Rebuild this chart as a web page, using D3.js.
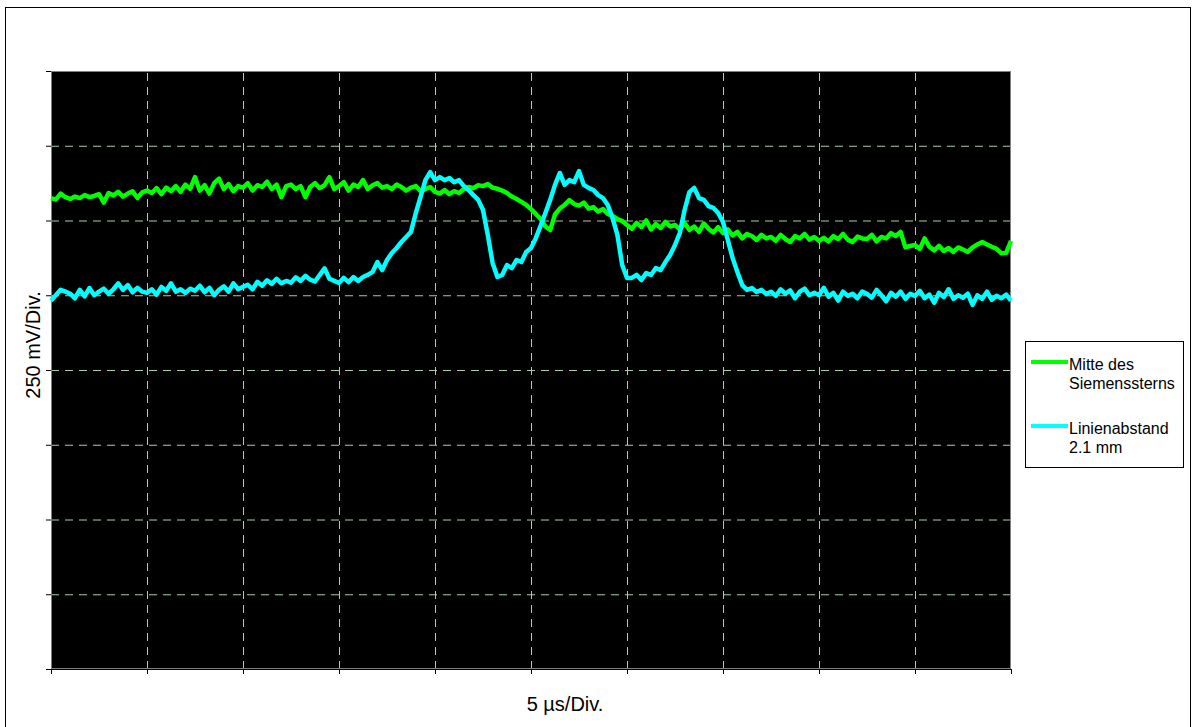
<!DOCTYPE html>
<html>
<head>
<meta charset="utf-8">
<script src="https://cdn.jsdelivr.net/npm/d3@7"></script>
<style>
  html, body { margin: 0; padding: 0; background: #fff; }
  svg { display: block; font-family: "Liberation Sans", Arial, sans-serif; }
</style>
</head>
<body>
<svg id="chart" width="1193" height="727"></svg>
<script>
// Oscilloscope capture: two photodiode traces, 0.25 µs sample spacing
const sampleStep = 0.25;                 // µs between samples
const xTicks = [0, 5, 10, 15, 20, 25, 30, 35, 40, 45, 50];          // µs, 5 µs/Div
const yTicks = [-1000, -750, -500, -250, 0, 250, 500, 750, 1000];   // mV, 250 mV/Div
const xTickLabels = [];
const yTickLabels = [];

const seriesNames = ["Mitte des Siemenssterns", "Linienabstand 2.1 mm"];

// trace 1 (mV)
const mitteValues = [
  575, 570, 590, 578, 572, 580, 575, 585, 578, 582,
  588, 560, 592, 584, 596, 580, 590, 598, 575, 594,
  600, 592, 608, 588, 610, 598, 615, 596, 620, 606,
  645, 600, 618, 590, 625, 640, 605, 622, 598, 615,
  610, 625, 600, 618, 612, 630, 605, 620, 578, 615,
  620, 605, 615, 578, 612, 625, 608, 618, 645, 605,
  615, 628, 600, 620, 612, 635, 605, 618, 625, 610,
  615, 605, 620, 612, 600, 610, 615, 598, 605, 612,
  596, 590, 602, 588, 598, 592, 605, 612, 608, 618,
  615, 622, 610, 606, 600, 592, 580, 572, 562, 552,
  538, 522, 505, 480, 468, 520, 540, 552, 568, 555,
  550, 560, 540, 545, 530, 538, 522, 515, 505, 498,
  485, 472, 492, 478, 500, 470, 488, 475, 495, 480,
  485, 470, 492, 468, 480, 462, 490, 472, 460, 478,
  458, 470, 450, 462, 440, 455, 448, 435, 452, 440,
  445, 432, 452, 438, 428, 448, 440, 455, 436, 445,
  432, 442, 430, 448, 438, 455, 436, 428, 446, 440,
  438, 452, 430, 445, 440, 458, 448, 462, 410, 415,
  418, 405, 440, 412, 400, 415, 398, 408, 395, 410,
  403, 395, 410, 420, 428, 420, 412, 405, 390, 392,
  432
];

// trace 2 (mV)
const linienValues = [
  232, 250, 268, 262, 255, 240, 268, 246, 274, 250,
  262, 272, 255, 270, 290, 268, 284, 260, 275, 262,
  258, 270, 252, 278, 265, 290, 262, 270, 258, 272,
  265, 282, 260, 275, 250, 268, 280, 262, 290, 270,
  278, 285, 270, 295, 282, 300, 288, 305, 290, 298,
  292, 310, 298, 315, 302, 296, 318, 340, 305, 298,
  291, 308, 294, 311, 298, 311, 318, 328, 361, 334,
  368, 391, 408, 428, 445, 462, 525, 579, 635, 662,
  635, 645, 635, 642, 628, 635, 615, 602, 585, 569,
  535, 452, 358, 311, 318, 351, 341, 368, 361, 395,
  408, 441, 482, 525, 569, 619, 659, 619, 635, 628,
  665, 619, 609, 602, 585, 575, 552, 508, 452, 351,
  308, 308, 318, 301, 324, 318, 341, 334, 361, 385,
  418, 458, 535, 595, 609, 575, 569, 548, 542, 525,
  495, 435, 375, 328, 284, 268, 274, 261, 268, 254,
  262, 248, 270, 255, 266, 240, 262, 272, 250, 258,
  250, 275, 245, 258, 232, 262, 248, 255, 240, 262,
  255, 242, 268, 250, 230, 258, 245, 262, 238, 255,
  248, 265, 240, 252, 225, 258, 244, 270, 238, 250,
  242, 255, 218, 250, 238, 262, 235, 248, 240, 252,
  232
];

const seriesColors = ["#00ff00", "#00ffff"];

const svg = d3.select("#chart");
const plot = { left: 51, top: 71, right: 1011, bottom: 669 };

const x = d3.scaleLinear().domain([0, 50]).range([plot.left, plot.right]);
const y = d3.scaleLinear().domain([-1000, 1000]).range([plot.bottom, plot.top]);

// chart frame
svg.append("rect")
  .attr("x", 5.5).attr("y", 7.5)
  .attr("width", 1185).attr("height", 730)
  .attr("fill", "#fff").attr("stroke", "#000").attr("stroke-width", 1);

// plot area
svg.append("rect")
  .attr("x", plot.left).attr("y", plot.top)
  .attr("width", plot.right - plot.left).attr("height", plot.bottom - plot.top)
  .attr("fill", "#000");

// dashed grid
const gridColor = "#aacdaa";
svg.append("g")
  .attr("transform", `translate(0,${plot.bottom})`)
  .call(d3.axisBottom(x).tickValues(xTicks.slice(1, -1)).tickSize(-(plot.bottom - plot.top)).tickFormat(""))
  .call(g => g.select(".domain").remove())
  .call(g => g.selectAll("line").attr("stroke", gridColor).attr("stroke-dasharray", "8,6"));
svg.append("g")
  .attr("transform", `translate(${plot.left},0)`)
  .call(d3.axisLeft(y).tickValues(yTicks.slice(1, -1)).tickSize(-(plot.right - plot.left)).tickFormat(""))
  .call(g => g.select(".domain").remove())
  .call(g => g.selectAll("line").attr("stroke", gridColor).attr("stroke-dasharray", "8,6"));

// plot border
svg.append("rect")
  .attr("x", plot.left + 0.5).attr("y", plot.top + 0.5)
  .attr("width", plot.right - plot.left - 1).attr("height", plot.bottom - plot.top - 1)
  .attr("fill", "none").attr("stroke", "#808080").attr("stroke-width", 1);

// axis ticks
svg.append("g")
  .attr("transform", `translate(${plot.left},0)`)
  .call(d3.axisLeft(y).tickValues(yTicks).tickSize(5).tickFormat((d, i) => yTickLabels[i] || ""))
  .call(g => g.select(".domain").remove())
  .call(g => g.selectAll("line").attr("stroke", "#000"));
svg.append("g")
  .attr("transform", `translate(0,${plot.bottom})`)
  .call(d3.axisBottom(x).tickValues(xTicks).tickSize(5).tickFormat((d, i) => xTickLabels[i] || ""))
  .call(g => g.select(".domain").attr("stroke", "#000"))
  .call(g => g.selectAll("line").attr("stroke", "#000"));

// traces
const line = d3.line()
  .x((d, i) => x(i * sampleStep))
  .y(d => y(d));

const traces = [mitteValues, linienValues];
traces.forEach((vals, k) => {
  svg.append("path")
    .datum(vals)
    .attr("d", line)
    .attr("fill", "none")
    .attr("stroke", seriesColors[k])
    .attr("stroke-width", 4.5)
    .attr("stroke-linejoin", "round");
});

// axis titles
svg.append("text")
  .attr("transform", "translate(40,345) rotate(-90)")
  .attr("text-anchor", "middle")
  .attr("font-size", 20)
  .attr("fill", "#000")
  .text("250 mV/Div.");
svg.append("text")
  .attr("x", 565).attr("y", 711)
  .attr("text-anchor", "middle")
  .attr("font-size", 20)
  .attr("fill", "#000")
  .text("5 µs/Div.");

// legend
const legend = svg.append("g");
legend.append("rect")
  .attr("x", 1025.5).attr("y", 341.5)
  .attr("width", 158).attr("height", 126)
  .attr("fill", "#fff").attr("stroke", "#000").attr("stroke-width", 1);
const legendRows = [
  { lines: ["Mitte des", "Siemenssterns"], y: 362 },
  { lines: ["Linienabstand", "2.1 mm"], y: 426 }
];
legendRows.forEach((row, k) => {
  legend.append("line")
    .attr("x1", 1031).attr("x2", 1068)
    .attr("y1", row.y).attr("y2", row.y)
    .attr("stroke", seriesColors[k]).attr("stroke-width", 4);
  const t = legend.append("text")
    .attr("x", 1069).attr("y", row.y + 7.5)
    .attr("font-size", 16).attr("fill", "#000");
  row.lines.forEach((s, j) => {
    t.append("tspan").attr("x", 1069).attr("dy", j === 0 ? 0 : 19).text(s);
  });
});
</script>
</body>
</html>
